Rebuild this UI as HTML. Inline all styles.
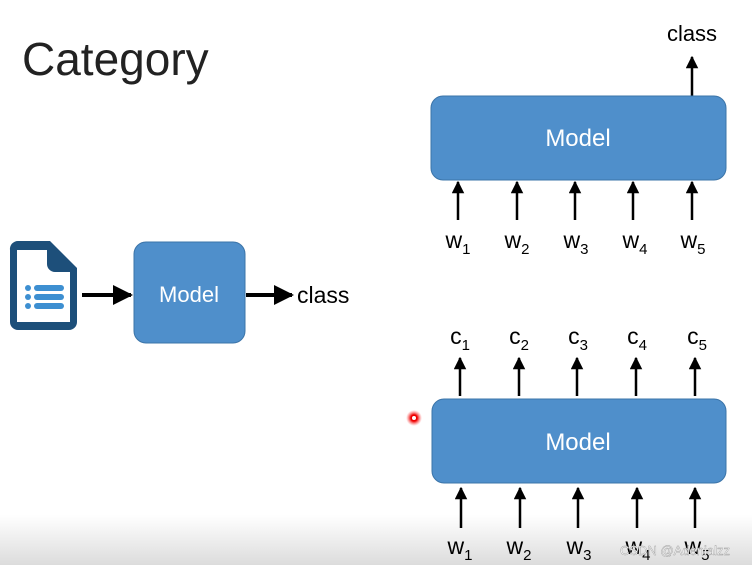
<!DOCTYPE html>
<html><head><style>body{margin:0;background:#fff}svg{display:block}</style></head><body>
<svg width="752" height="565" viewBox="0 0 752 565" xmlns="http://www.w3.org/2000/svg" font-family="Liberation Sans, sans-serif">
<defs>
<linearGradient id="g" x1="0" y1="0" x2="0" y2="1"><stop offset="0" stop-color="#fff"/><stop offset="1" stop-color="#dcdcdc"/></linearGradient>
<marker id="a" viewBox="0 0 10 10" refX="9" refY="5" markerWidth="5" markerHeight="5" orient="auto"><path d="M0,0L10,5L0,10z" fill="#000"/></marker>
<radialGradient id="r"><stop offset="0.4" stop-color="#e00"/><stop offset="1" stop-color="#f66" stop-opacity="0"/></radialGradient>
</defs>
<rect x="0" y="515" width="752" height="50" fill="url(#g)"/>
<text x="22" y="75" font-size="46" fill="#222">Category</text>
<!-- doc icon -->
<path d="M10,250 a8,8 0 0 1 8,-9 h32 l27,27 v54 a8,8 0 0 1 -8,8 h-51 a8,8 0 0 1 -8,-8z" fill="#1d4f7a"/>
<path d="M17,250 h30 v14 a8,8 0 0 0 8,8 h15 v50 h-53z" fill="#fff"/>
<g fill="#3d8fd1"><circle cx="28" cy="288" r="3"/><circle cx="28" cy="297" r="3"/><circle cx="28" cy="306" r="3"/>
<rect x="34" y="285" width="30" height="6" rx="3"/><rect x="34" y="294" width="30" height="6" rx="3"/><rect x="34" y="303" width="30" height="6" rx="3"/></g>
<line x1="82" y1="295" x2="131" y2="295" stroke="#000" stroke-width="4" marker-end="url(#a)"/>
<rect x="134" y="242" width="111" height="101" rx="12" fill="#4f8fcb" stroke="#3b74a8"/>
<text x="189" y="302" font-size="22" fill="#fff" text-anchor="middle">Model</text>
<line x1="246" y1="295" x2="292" y2="295" stroke="#000" stroke-width="4" marker-end="url(#a)"/>
<text x="297" y="303" font-size="23" fill="#000">class</text>
<!-- top right -->
<text x="692" y="41" font-size="22" text-anchor="middle">class</text>
<line x1="692" y1="96" x2="692" y2="57" stroke="#000" stroke-width="2.5" marker-end="url(#a)"/>
<rect x="431" y="96" width="295" height="84" rx="12" fill="#4f8fcb" stroke="#3b74a8"/>
<text x="578" y="146" font-size="24" fill="#fff" text-anchor="middle">Model</text>
<g stroke="#000" stroke-width="2.5" marker-end="url(#a)">
<line x1="458" y1="220" x2="458" y2="182"/><line x1="517" y1="220" x2="517" y2="182"/><line x1="575" y1="220" x2="575" y2="182"/><line x1="633" y1="220" x2="633" y2="182"/><line x1="692" y1="220" x2="692" y2="182"/></g>
<g font-size="23" text-anchor="middle">
<text x="458" y="248">w<tspan font-size="15" dy="6">1</tspan></text>
<text x="517" y="248">w<tspan font-size="15" dy="6">2</tspan></text>
<text x="576" y="248">w<tspan font-size="15" dy="6">3</tspan></text>
<text x="635" y="248">w<tspan font-size="15" dy="6">4</tspan></text>
<text x="693" y="248">w<tspan font-size="15" dy="6">5</tspan></text>
</g>
<!-- bottom right -->
<g font-size="23" text-anchor="middle">
<text x="460" y="344">c<tspan font-size="15" dy="6">1</tspan></text>
<text x="519" y="344">c<tspan font-size="15" dy="6">2</tspan></text>
<text x="578" y="344">c<tspan font-size="15" dy="6">3</tspan></text>
<text x="637" y="344">c<tspan font-size="15" dy="6">4</tspan></text>
<text x="697" y="344">c<tspan font-size="15" dy="6">5</tspan></text>
</g>
<g stroke="#000" stroke-width="2.5" marker-end="url(#a)">
<line x1="460" y1="396" x2="460" y2="358"/><line x1="519" y1="396" x2="519" y2="358"/><line x1="577" y1="396" x2="577" y2="358"/><line x1="636" y1="396" x2="636" y2="358"/><line x1="695" y1="396" x2="695" y2="358"/></g>
<circle cx="414" cy="418" r="8" fill="url(#r)"/><circle cx="414" cy="418" r="2" fill="#fff"/>
<rect x="432" y="399" width="294" height="84" rx="12" fill="#4f8fcb" stroke="#3b74a8"/>
<text x="578" y="450" font-size="24" fill="#fff" text-anchor="middle">Model</text>
<g stroke="#000" stroke-width="2.5" marker-end="url(#a)">
<line x1="461" y1="528" x2="461" y2="488"/><line x1="520" y1="528" x2="520" y2="488"/><line x1="578" y1="528" x2="578" y2="488"/><line x1="637" y1="528" x2="637" y2="488"/><line x1="695" y1="528" x2="695" y2="488"/></g>
<g font-size="23" text-anchor="middle">
<text x="460" y="554">w<tspan font-size="15" dy="6">1</tspan></text>
<text x="519" y="554">w<tspan font-size="15" dy="6">2</tspan></text>
<text x="579" y="554">w<tspan font-size="15" dy="6">3</tspan></text>
<text x="638" y="554">w<tspan font-size="15" dy="6">4</tspan></text>
<text x="697" y="554">w<tspan font-size="15" dy="6">5</tspan></text>
</g>
<text x="620" y="555" font-size="13" fill="#fff" stroke="#999" stroke-width="0.4">CSDN @Adenialzz</text>
</svg>
</body></html>
